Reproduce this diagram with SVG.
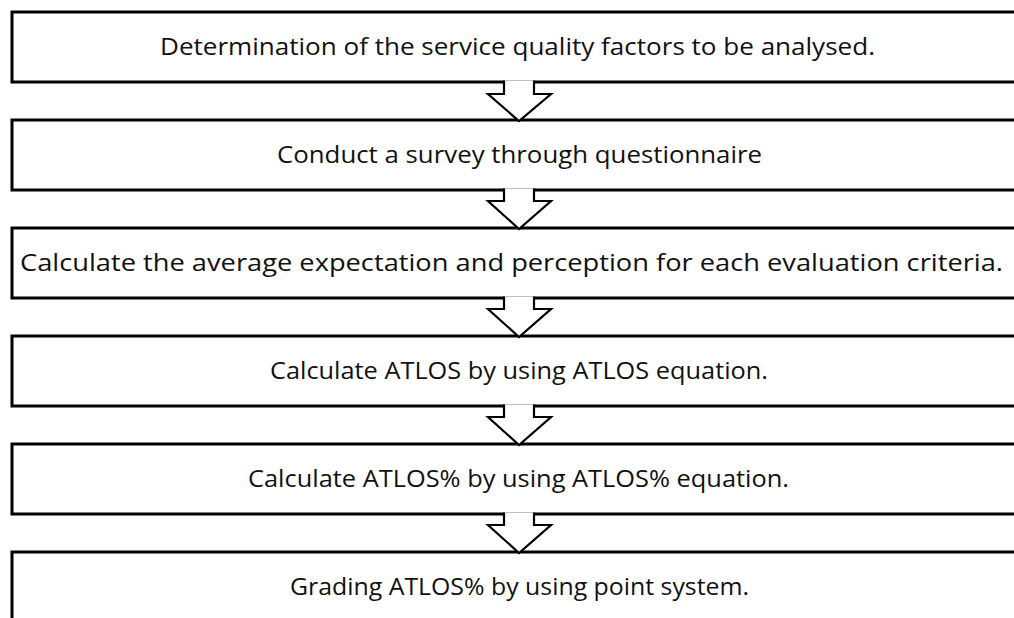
<svg xmlns="http://www.w3.org/2000/svg" width="1014" height="618" viewBox="0 0 1014 618">
<style>
.box{fill:#fff;stroke:#000;stroke-width:3}
.arr{fill:#fff;stroke:#000;stroke-width:2.2;stroke-linejoin:miter}
.t{font-family:"Open Sans","Liberation Sans",sans-serif;font-size:23px;fill:#111;text-anchor:middle}
</style>
<rect width="1014" height="618" fill="#fff"/>
<g id="n1"><rect class="box" x="12" y="12" width="1030" height="70"/><text class="t" x="517.5" y="55" textLength="715" lengthAdjust="spacingAndGlyphs">Determination of the service quality factors to be analysed.</text></g>
<g id="n2"><rect class="box" x="12" y="120" width="1030" height="70"/><text class="t" x="519.5" y="163" textLength="485" lengthAdjust="spacingAndGlyphs">Conduct a survey through questionnaire</text></g>
<g id="n3"><rect class="box" x="12" y="228" width="1030" height="70"/><text class="t" x="511.5" y="271" textLength="983" lengthAdjust="spacingAndGlyphs">Calculate the average expectation and perception for each evaluation criteria.</text></g>
<g id="n4"><rect class="box" x="12" y="336" width="1030" height="70"/><text class="t" x="519" y="379" textLength="498" lengthAdjust="spacingAndGlyphs">Calculate ATLOS by using ATLOS equation.</text></g>
<g id="n5"><rect class="box" x="12" y="444" width="1030" height="70"/><text class="t" x="518.5" y="487" textLength="541" lengthAdjust="spacingAndGlyphs">Calculate ATLOS% by using ATLOS% equation.</text></g>
<g id="n6"><rect class="box" x="12" y="552" width="1030" height="90"/><text class="t" x="519.5" y="595" textLength="459" lengthAdjust="spacingAndGlyphs">Grading ATLOS% by using point system.</text></g>
<g id="connectors">
<path class="arr" d="M504,80.5 V94 H488 L519,121 L551,94 H534 V80.5"/>
<path class="arr" d="M504,188.5 V201 H488 L519,229 L551,201 H534 V188.5"/>
<path class="arr" d="M504,296.5 V309 H488 L519,337 L551,309 H534 V296.5"/>
<path class="arr" d="M504,404.5 V417 H488 L519,445 L551,417 H534 V404.5"/>
<path class="arr" d="M504,512.5 V525 H488 L519,553 L551,525 H534 V512.5"/>
</g>
</svg>
